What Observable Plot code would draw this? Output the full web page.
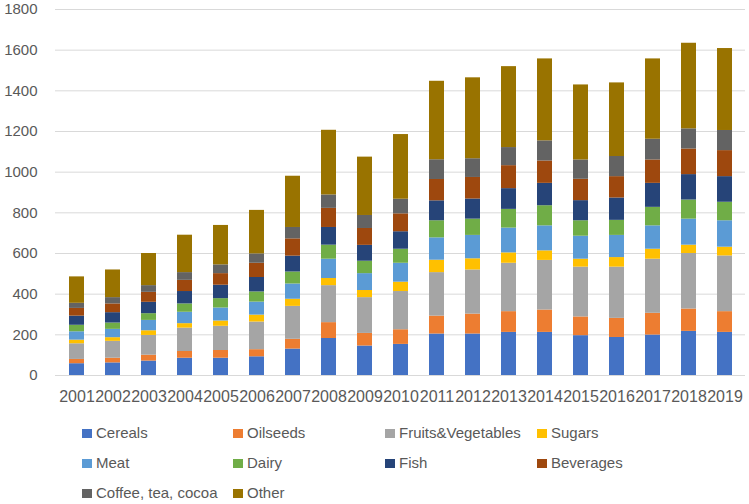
<!DOCTYPE html>
<html>
<head>
<meta charset="utf-8">
<script src="https://cdn.jsdelivr.net/npm/d3@7"></script>
<script src="https://cdn.jsdelivr.net/npm/@observablehq/plot@0.6"></script>
<style>
  html, body { margin: 0; padding: 0; background: #fff; }
  #wrap { position: relative; width: 749px; height: 504px; font-family: "Liberation Sans", Arial, sans-serif; }
  #legend { position: absolute; left: 0; top: 418px; width: 749px; }
  .item { position: absolute; height: 30px; line-height: 30px; font-size: 15px; color: #595959; white-space: nowrap; }
  .sw { display: inline-block; width: 10px; height: 9px; margin-right: 4px; vertical-align: 0px; }
</style>
</head>
<body>
<div id="wrap"><div id="chart"></div><div id="legend"></div></div>
<script>
const years = ["2001","2002","2003","2004","2005","2006","2007","2008","2009","2010","2011","2012","2013","2014","2015","2016","2017","2018","2019"];
const categories = ["Cereals","Oilseeds","Fruits&Vegetables","Sugars","Meat","Dairy","Fish","Beverages","Coffee, tea, cocoa","Other"];
const colors = ["#4472C4","#ED7D31","#A5A5A5","#FFC000","#5B9BD5","#70AD47","#264478","#9E480E","#636363","#997300"];

const cereals    = [58,62,71,85,85,92,130,182,145,153,204,204,212,212,196,187,199,217,212];
const oilseeds   = [21,23,29,33,38,35,48,78,62,72,88,98,102,110,92,94,107,110,102];
const fruitsVeg  = [77,83,97,115,119,136,162,182,176,188,214,217,238,244,245,252,266,273,274];
const sugars     = [18,18,23,22,26,34,35,35,35,46,61,55,51,47,39,47,49,41,43];
const meat       = [41,41,51,56,64,64,75,95,83,93,110,115,122,123,113,109,115,128,130];
const dairy      = [32,31,33,41,46,50,59,69,61,69,84,80,92,99,76,74,91,94,91];
const fish       = [45,51,56,61,66,71,78,87,78,86,98,99,102,110,99,110,118,125,126];
const beverages  = [38,43,49,55,57,70,85,94,83,88,105,106,113,110,105,105,115,126,128];
const coffeeTea  = [25,31,33,38,43,46,56,66,64,72,97,92,89,99,95,99,102,99,99];
const other      = [130,136,158,184,194,214,252,318,287,318,386,398,398,403,369,362,395,421,403];

const yTicks = [0,200,400,600,800,1000,1200,1400,1600,1800];

const series = [cereals, oilseeds, fruitsVeg, sugars, meat, dairy, fish, beverages, coffeeTea, other];
const rows = [];
categories.forEach((c, i) => {
  years.forEach((y, j) => rows.push({year: y, category: c, value: series[i][j]}));
});

const chart = Plot.plot({
  width: 749,
  height: 415,
  marginTop: 9,
  marginBottom: 40,
  marginLeft: 55,
  marginRight: 4,
  style: {fontFamily: "'Liberation Sans', Arial, sans-serif", color: "#595959", background: "#fff"},
  x: {domain: years, range: [64.8, 737.1], paddingInner: 0.58, paddingOuter: 0, label: null},
  y: {domain: [0, 1800], label: null},
  color: {domain: categories, range: colors},
  marks: [
    Plot.ruleY(yTicks, {stroke: "#D9D9D9", strokeWidth: 1}),
    Plot.barY(rows, Plot.stackY({order: categories}, {x: "year", y: "value", fill: "category", z: "category"})),
    Plot.axisY(yTicks, {tickSize: 0, tickPadding: 18, fontSize: 15, fill: "#595959", label: null, tickFormat: d => String(d)}),
    Plot.axisX({tickSize: 0, tickPadding: 15, fontSize: 16, fill: "#595959", label: null})
  ]
});
document.getElementById("chart").appendChild(chart);

const legendX = [82, 233, 385, 537];
const legend = document.getElementById("legend");
categories.forEach((c, i) => {
  const col = i % 4, row = Math.floor(i / 4);
  const el = document.createElement("div");
  el.className = "item";
  el.style.left = legendX[col] + "px";
  el.style.top = (row * 30) + "px";
  const sw = document.createElement("span");
  sw.className = "sw";
  sw.style.background = colors[i];
  el.appendChild(sw);
  el.appendChild(document.createTextNode(c));
  legend.appendChild(el);
});
</script>
</body>
</html>
